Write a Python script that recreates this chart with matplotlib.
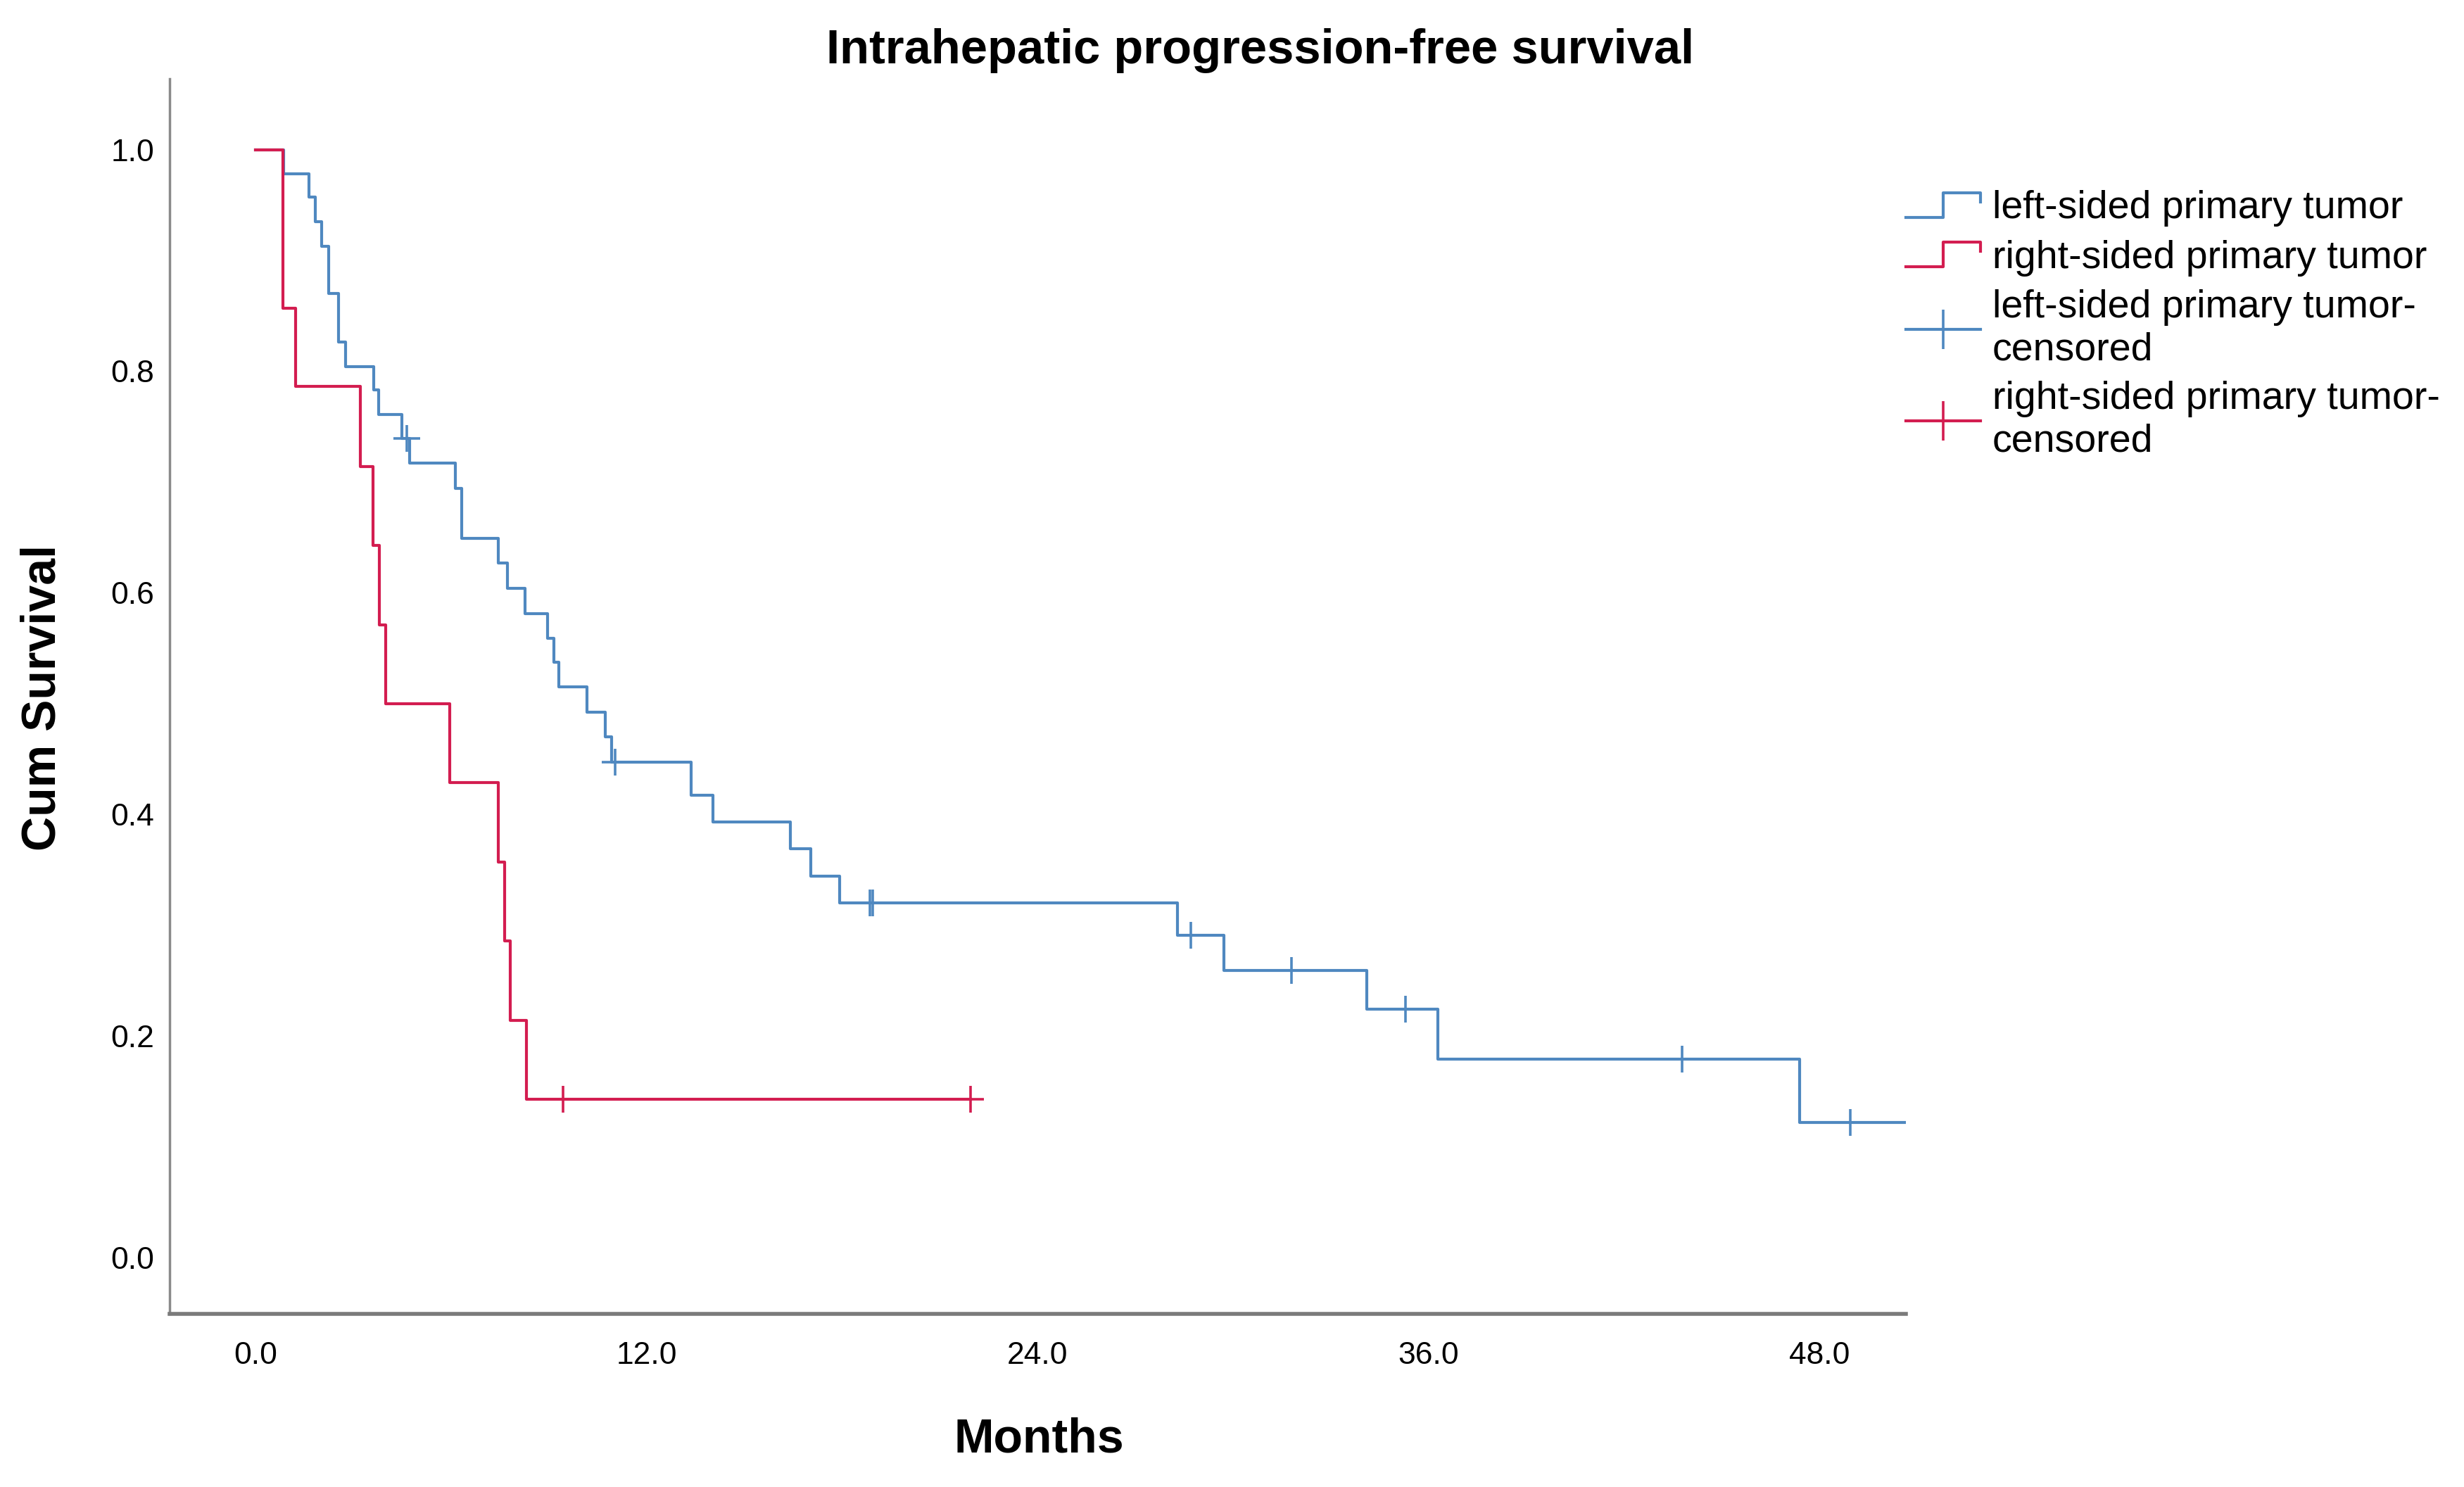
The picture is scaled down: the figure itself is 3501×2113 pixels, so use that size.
import numpy as np
import matplotlib
matplotlib.use("Agg")
import matplotlib.pyplot as plt
from matplotlib.lines import Line2D
from matplotlib.legend_handler import HandlerBase

plt.rcParams['font.family'] = ['Liberation Sans', 'DejaVu Sans']

# Kaplan-Meier steps (months, cum survival)
left_times = [0, 0.85, 1.64, 1.83, 2.03, 2.23, 2.55, 2.75, 3.63, 3.78, 4.49, 4.72,
              6.12, 6.32, 7.45, 7.72, 8.27, 8.96, 9.15, 9.30, 10.16, 10.74, 10.92,
              13.36, 14.04, 16.41, 17.03, 17.92, 28.30, 29.73, 34.10, 36.30, 47.40]
left_surv = [1.0, 0.978, 0.957, 0.935, 0.913, 0.870, 0.826, 0.804, 0.783, 0.761, 0.739, 0.717,
             0.694, 0.649, 0.627, 0.604, 0.581, 0.559, 0.537, 0.515, 0.492, 0.470, 0.447,
             0.417, 0.393, 0.369, 0.344, 0.320, 0.291, 0.259, 0.224, 0.179, 0.122]
left_end = 52.0
left_cens_t = [4.63, 11.03, 18.85, 18.95, 28.70, 31.80, 35.30, 43.80, 48.95]
left_cens_s = [0.739, 0.447, 0.320, 0.320, 0.291, 0.259, 0.224, 0.179, 0.122]

right_times = [0, 0.83, 1.23, 3.22, 3.60, 3.79, 3.99, 5.95, 7.45, 7.63, 7.82, 8.32]
right_surv = [1.0, 0.857, 0.786, 0.714, 0.643, 0.571, 0.500, 0.429, 0.357, 0.286, 0.214, 0.143]
right_end = 21.95
right_cens_t = [9.43, 21.95]
right_cens_s = [0.143, 0.143]

labels = ['left-sided primary tumor', 'right-sided primary tumor',
          'left-sided primary tumor-\ncensored', 'right-sided primary tumor-\ncensored']

c_left = '#4f88c0'
c_right = '#d31d50'
lw = 3.0


class StepHandler(HandlerBase):
    # little step icon like SPSS legend
    def create_artists(self, legend, orig_handle, xdescent, ydescent, width, height, fontsize, trans):
        x0 = -xdescent
        y0 = -ydescent
        xs = [x0, x0 + width * 0.5, x0 + width * 0.5, x0 + width, x0 + width]
        ys = [y0 + height * 0.05, y0 + height * 0.05, y0 + height * 0.95, y0 + height * 0.95, y0 + height * 0.6]
        ln = Line2D(xs, ys, color=orig_handle.get_color(), lw=orig_handle.get_linewidth())
        ln.set_transform(trans)
        return [ln]


fig = plt.figure(figsize=(35.01, 21.13), dpi=100)
ax = fig.add_axes([0.0689, 0.1163, 0.7047, 0.8308])

ax.step(left_times + [left_end], left_surv + [left_surv[-1]], where='post', color=c_left, lw=lw)
ax.step(right_times + [right_end], right_surv + [right_surv[-1]], where='post', color=c_right, lw=lw)
ax.plot(left_cens_t, left_cens_s, '+', color=c_left, markersize=28, markeredgewidth=2.6)
ax.plot(right_cens_t, right_cens_s, '+', color=c_right, markersize=28, markeredgewidth=2.6)

ax.set_xlim(-2.64, 50.67)
ax.set_ylim(-0.051, 1.064)
ax.set_xticks([0, 12, 24, 36, 48])
ax.set_xticklabels(['0.0', '12.0', '24.0', '36.0', '48.0'])
ax.set_yticks([0, 0.2, 0.4, 0.6, 0.8, 1.0])
ax.set_yticklabels(['0.0', '0.2', '0.4', '0.6', '0.8', '1.0'])
ax.tick_params(axis='both', length=0, labelsize=32)
ax.tick_params(axis='x', pad=28)
ax.tick_params(axis='y', pad=16)

ax.spines['top'].set_visible(False)
ax.spines['right'].set_visible(False)
ax.spines['left'].set_color('#8a8a8a')
ax.spines['left'].set_linewidth(2.5)
ax.spines['bottom'].set_color('#7a7a7a')
ax.spines['bottom'].set_linewidth(4)

fig.text(0.5115, 0.966, 'Intrahepatic progression-free survival', ha='center', va='center',
         fontsize=49.5, fontweight='bold')
fig.text(0.4216, 0.032, 'Months', ha='center', va='center', fontsize=49, fontweight='bold')
fig.text(0.0172, 0.531, 'Cum Survival', ha='center', va='center', rotation=90,
         fontsize=49, fontweight='bold')

h1 = Line2D([], [], color=c_left, lw=lw)
h2 = Line2D([], [], color=c_right, lw=lw)
h3 = Line2D([], [], color=c_left, lw=lw, marker='|', markersize=40, markeredgewidth=2.6)
h4 = Line2D([], [], color=c_right, lw=lw, marker='|', markersize=40, markeredgewidth=2.6)
leg = fig.legend([h1, h2, h3, h4], labels, loc='upper left', bbox_to_anchor=(0.7736, 0.872),
                 frameon=False, fontsize=40, handlelength=1.9, handletextpad=0.3,
                 labelspacing=0.33, borderpad=0, borderaxespad=0, numpoints=1,
                 handler_map={h1: StepHandler(), h2: StepHandler()})
for t in leg.get_texts():
    t.set_linespacing(1.2)

fig.savefig('out.png', dpi=100)
